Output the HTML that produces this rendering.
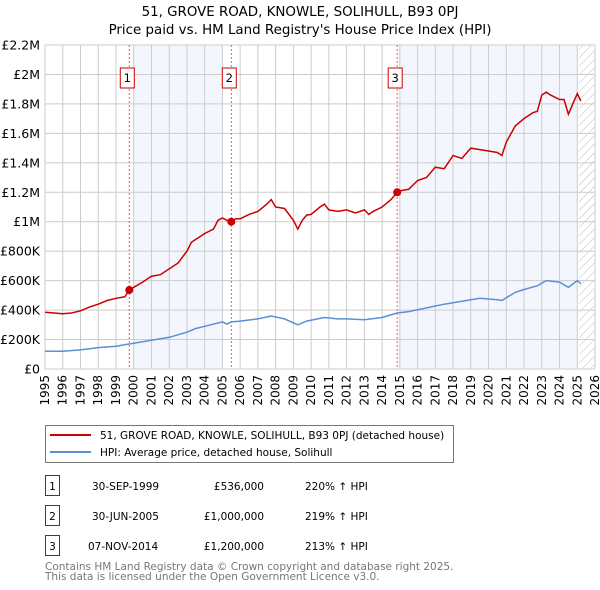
<!DOCTYPE html>
<html><head><meta charset="utf-8"><style>
body{margin:0;background:#fff;font-family:"Liberation Sans","DejaVu Sans",sans-serif;}
svg{display:block}
</style></head><body>
<svg id="c" width="600" height="590" xmlns="http://www.w3.org/2000/svg" font-family="DejaVu Sans, Liberation Sans, sans-serif">
<text x="300" y="16" text-anchor="middle" font-size="13.4">51, GROVE ROAD, KNOWLE, SOLIHULL, B93 0PJ</text>
<text x="300" y="34" text-anchor="middle" font-size="13.4">Price paid vs. HM Land Registry's House Price Index (HPI)</text>
<defs><pattern id="h" width="6" height="6" patternUnits="userSpaceOnUse" patternTransform="rotate(45)"><line x1="0" y1="0" x2="0" y2="6" stroke="#bbb" stroke-width="1"/></pattern></defs>
<g id="plot"></g>
<g>
<rect x="45.5" y="425.5" width="408" height="37" fill="#fff" stroke="#777"/>
<line x1="50" y1="435" x2="91" y2="435" stroke="#cc0000" stroke-width="2"/>
<text x="100" y="439" font-size="10.5">51, GROVE ROAD, KNOWLE, SOLIHULL, B93 0PJ (detached house)</text>
<line x1="50" y1="452" x2="91" y2="452" stroke="#5b8fd6" stroke-width="2"/>
<text x="100" y="456" font-size="10.5">HPI: Average price, detached house, Solihull</text>
</g>
<g font-size="10.5">
<rect x="45.5" y="475.5" width="14" height="20" fill="#fff" stroke="#cc0000"/><text x="52.5" y="490" text-anchor="middle">1</text>
<text x="92" y="490">30-SEP-1999</text><text x="264" y="490" text-anchor="end">£536,000</text><text x="305" y="490">220% ↑ HPI</text>
<rect x="45.5" y="505.5" width="14" height="20" fill="#fff" stroke="#cc0000"/><text x="52.5" y="520" text-anchor="middle">2</text>
<text x="92" y="520">30-JUN-2005</text><text x="264" y="520" text-anchor="end">£1,000,000</text><text x="305" y="520">219% ↑ HPI</text>
<rect x="45.5" y="535.5" width="14" height="20" fill="#fff" stroke="#cc0000"/><text x="52.5" y="550" text-anchor="middle">3</text>
<text x="88" y="550">07-NOV-2014</text><text x="264" y="550" text-anchor="end">£1,200,000</text><text x="305" y="550">213% ↑ HPI</text>
</g>
<text x="45" y="570" font-size="10.5" fill="#777">Contains HM Land Registry data © Crown copyright and database right 2025.</text>
<text x="45" y="580" font-size="10.5" fill="#777">This data is licensed under the Open Government Licence v3.0.</text>
</svg>
<script>
const redYears=[1995,1995.5,1996,1996.5,1997,1997.5,1998,1998.5,1999,1999.5,1999.75,2000,2000.5,2001,2001.5,2002,2002.5,2003,2003.25,2003.5,2004,2004.5,2004.75,2005,2005.25,2005.5,2005.75,2006,2006.5,2007,2007.5,2007.75,2008,2008.5,2009,2009.25,2009.5,2009.75,2010,2010.5,2010.75,2011,2011.5,2012,2012.5,2013,2013.25,2013.5,2014,2014.5,2014.85,2015,2015.5,2016,2016.5,2017,2017.5,2018,2018.5,2019,2019.5,2020,2020.5,2020.75,2021,2021.5,2022,2022.5,2022.75,2023,2023.25,2023.5,2024,2024.25,2024.5,2024.75,2025,2025.2];
const redValues=[385,380,375,380,395,420,440,465,480,490,536,555,590,630,640,680,720,800,860,880,920,950,1010,1025,1010,1000,1020,1020,1050,1070,1120,1150,1100,1090,1010,950,1010,1045,1050,1100,1120,1080,1070,1080,1060,1080,1050,1070,1100,1150,1200,1210,1220,1280,1300,1370,1360,1450,1430,1500,1490,1480,1470,1450,1540,1650,1700,1740,1750,1860,1880,1860,1830,1830,1730,1800,1870,1820];
const hpiYears=[1995,1996,1997,1998,1999,2000,2001,2002,2003,2003.5,2004,2005,2005.25,2005.5,2006,2007,2007.75,2008.5,2009.25,2009.75,2010.75,2011.5,2012,2013,2014,2014.85,2015.5,2016.5,2017.5,2018.5,2019.5,2020.5,2020.75,2021.5,2022,2022.75,2023.25,2024,2024.5,2025,2025.2];
const hpiValues=[120,120,130,145,155,175,195,215,250,275,290,320,305,320,325,340,360,340,300,325,350,340,340,335,350,380,390,415,440,460,480,470,465,520,540,565,600,590,555,600,580];
const saleYears=[1999.75,2005.5,2014.85];
const saleValues=[536,1000,1200];
const saleLabels=["1","2","3"];
const yTicks=[0,200,400,600,800,1000,1200,1400,1600,1800,2000,2200];
const yTickLabels=["£0","£200K","£400K","£600K","£800K","£1M","£1.2M","£1.4M","£1.6M","£1.8M","£2M","£2.2M"];
const xTicks=[1995,1996,1997,1998,1999,2000,2001,2002,2003,2004,2005,2006,2007,2008,2009,2010,2011,2012,2013,2014,2015,2016,2017,2018,2019,2020,2021,2022,2023,2024,2025,2026];
const shadeBands=[[2000,2005],[2015,2025]];
const NS="http://www.w3.org/2000/svg";
const X0=45,X1=595,Y0=369,Y1=45;
const xs=y=>X0+(y-1995)*(X1-X0)/31;
const ys=v=>Y0-v*(Y0-Y1)/2200;
const g=document.getElementById('plot');
function mk(t,a){const e=document.createElementNS(NS,t);for(const k in a)e.setAttribute(k,a[k]);g.appendChild(e);return e;}
let e=mk('rect',{x:X0,y:Y1,width:X1-X0,height:Y0-Y1,fill:'#fff'});


shadeBands.forEach(b=>{const r=mk('rect',{x:xs(b[0]),y:Y1,width:xs(b[1])-xs(b[0]),height:Y0-Y1,fill:'#f3f7fd'});

});
const hx=xs(2025.1);
e=mk('rect',{x:hx,y:Y1,width:X1-hx,height:Y0-Y1,fill:'url(#h)'});


xTicks.forEach(t=>{mk('line',{x1:xs(t),x2:xs(t),y1:Y1,y2:Y0,stroke:'#ccc','stroke-width':1});
const tx=mk('text',{x:0,y:0,'font-size':12,'text-anchor':'end',transform:`translate(${xs(t)+4},${Y0+6}) rotate(-90)`});tx.textContent=t;

});
yTicks.forEach((t,i)=>{mk('line',{x1:X0,x2:X1,y1:ys(t),y2:ys(t),stroke:'#ccc','stroke-width':1});
const tx=mk('text',{x:40,y:ys(t)+4.5,'font-size':12.5,'text-anchor':'end'});tx.textContent=yTickLabels[i];

});
saleYears.forEach((s,i)=>{mk('line',{x1:xs(s),x2:xs(s),y1:Y1,y2:Y0,stroke:'#e06060','stroke-width':1,'stroke-dasharray':'2,2'});
const bx=xs(s)-2;
const r=mk('rect',{x:bx-7,y:68,width:14,height:20,fill:'#fff',stroke:'#cc0000'});


const t=mk('text',{x:bx,y:82,'font-size':11.5,'text-anchor':'middle'});t.textContent=saleLabels[i];});
const path=(yr,vs)=>yr.map((y,i)=>(i?'L':'M')+xs(y).toFixed(1)+','+ys(vs[i]).toFixed(1)).join('');
e=mk('path',{d:path(hpiYears,hpiValues),fill:'none',stroke:'#5b8fd6','stroke-width':1.5});


e=mk('path',{d:path(redYears,redValues),fill:'none',stroke:'#cc0000','stroke-width':1.5});


saleYears.forEach((s,i)=>{const c=mk('circle',{cx:xs(s),cy:ys(saleValues[i]),r:4,fill:'#cc0000'});

});
</script>
</body></html>
